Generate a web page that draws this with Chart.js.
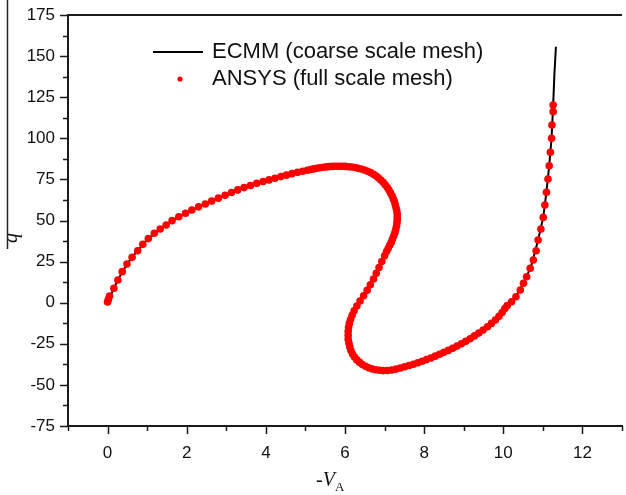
<!DOCTYPE html>
<html><head><meta charset="utf-8">
<script src="https://cdn.jsdelivr.net/npm/chart.js@4.4.1/dist/chart.umd.min.js"></script>
<style>html,body{margin:0;padding:0;background:#fff;overflow:hidden}</style>
</head><body>
<canvas id="c" width="626" height="495"></canvas>
<script>
// ---- data ----
const ecmmLabel = 'ECMM (coarse scale mesh)';
const ansysLabel = 'ANSYS (full scale mesh)';

const ecmmX = [0,0.1,0.25,0.5,0.75,1.0,1.3,1.6,2.0,2.4,2.8,3.2,3.6,4.0,4.5,5.0,5.4,5.8,6.2,6.5,6.8,7.05,7.2,7.3,7.32,7.28,7.2,7.09,6.93,6.72,6.47,6.27,6.14,6.08,6.09,6.15,6.30,6.52,6.78,7.0,7.3,7.7,8.2,8.7,9.2,9.6,9.9,10.1,10.3,10.5,10.7,10.88,11.01,11.09,11.16,11.22,11.26,11.29,11.33];
const ecmmY = [0,5.5,13.5,23.8,31.5,38.3,44.4,49.4,54.8,59.5,63.6,67.8,71.3,74.2,77.4,80.3,82.2,83.0,82.4,80.6,76.8,70.1,64.2,56.7,50.1,44.4,38.7,33.0,25.0,14.4,4.2,-3.4,-10.2,-17.4,-24.0,-29.1,-34.8,-38.7,-40.8,-41.3,-40.4,-37.6,-33.4,-27.9,-21.3,-14.6,-8.3,-1.8,3.2,11.3,21.9,38.1,51.9,67.2,83.3,100,120,138,155.7];

const ansysX = [0.00,0.02,0.05,0.16,0.26,0.37,0.49,0.62,0.76,0.89,1.03,1.18,1.33,1.48,1.63,1.80,1.97,2.13,2.30,2.47,2.63,2.80,
2.97,3.13,3.29,3.45,3.61,3.77,3.93,4.08,4.23,4.38,4.52,4.66,4.80,4.93,5.05,
5.13,5.21,5.29,5.37,5.45,5.53,5.61,5.69,5.77,5.85,5.93,6.01,6.09,6.17,6.25,6.33,6.41,6.49,
6.57,6.65,6.72,6.79,6.85,6.91,6.97,7.02,7.07,7.11,7.15,7.19,7.22,7.25,7.27,7.29,7.31,7.32,7.32,7.32,7.31,7.30,7.28,7.26,7.23,7.20,7.17,7.13,7.09,7.05,
7.00,6.93,6.86,6.79,6.72,6.64,6.56,6.47,6.38,6.30,6.23,6.18,
6.14,6.11,6.09,6.08,6.08,6.08,6.10,6.12,6.15,6.19,6.24,6.30,6.37,6.44,6.52,6.60,6.69,6.78,6.87,6.96,
7.07,7.18,7.29,7.40,7.51,7.62,7.73,7.84,7.95,8.06,8.17,8.28,8.39,8.50,8.61,8.72,8.83,8.94,9.05,9.16,9.27,9.38,9.49,9.60,9.70,9.80,9.89,9.97,10.04,10.10,10.21,
10.32,10.43,10.51,10.59,10.68,10.76,10.83,10.88,10.95,11.01,11.05,11.09,11.13,11.16,11.19,11.22,11.23,11.26,11.26];
const ansysY = [0.5,2.0,4.0,8.8,13.8,18.9,23.5,27.6,31.6,35.5,39.0,42.2,44.8,47.3,49.9,52.3,54.4,56.4,58.3,60.0,61.8,63.6,
65.3,67.0,68.6,70.0,71.3,72.6,73.7,74.7,75.7,76.7,77.6,78.5,79.3,80.0,80.6,
81.0,81.4,81.8,82.1,82.4,82.6,82.8,82.9,83.0,83.0,83.0,82.9,82.7,82.5,82.2,81.8,81.3,80.7,
80.0,79.1,78.1,77.0,75.8,74.5,73.1,71.6,70.1,68.5,66.8,65.1,63.3,61.5,59.6,57.7,55.8,53.9,52.0,50.1,48.2,46.3,44.4,42.5,40.6,38.7,36.8,34.9,33.0,31.1,
28.5,25.0,21.4,17.9,14.4,10.9,7.5,4.2,1.0,-2.0,-4.9,-7.7,
-10.2,-12.6,-15.0,-17.4,-19.8,-22.2,-24.6,-26.9,-29.1,-31.2,-33.1,-34.8,-36.3,-37.6,-38.7,-39.6,-40.3,-40.8,-41.1,-41.3,
-41.2,-40.9,-40.4,-39.7,-39.0,-38.2,-37.4,-36.5,-35.6,-34.6,-33.6,-32.5,-31.4,-30.2,-29.0,-27.7,-26.4,-25.0,-23.5,-21.9,-20.2,-18.5,-16.6,-14.6,-12.6,-10.5,-8.3,-6.0,-3.6,-1.8,0.6,
3.6,7.7,11.8,15.8,20.9,26.0,31.6,38.1,44.8,51.9,59.4,67.2,75.2,83.3,91.5,100.0,108.1,116.2,120.3];

const xMajorTicks = [0,2,4,6,8,10,12];
const xMinorTicks = [-1,1,3,5,7,9,11,13];
const yMajorTicks = [-75,-50,-25,0,25,50,75,100,125,150,175];
const yMinorTicks = [-62.5,-37.5,-12.5,12.5,37.5,62.5,87.5,112.5,137.5,162.5];
const xRange = [-1, 13];
const yRange = [-75, 175];

// ---- chart ----
const toPts = (xs, ys) => xs.map((x, i) => ({x: x, y: ys[i]}));
const AXIS = '#1a1a1a';
const SANS = '"Liberation Sans", Arial, sans-serif';
const SERIF = '"Liberation Serif", "Times New Roman", serif';

const decor = {
  id: 'decor',
  afterDraw(chart) {
    const ctx = chart.ctx, a = chart.chartArea;
    const xs = chart.scales.x, ys = chart.scales.y;
    ctx.save();
    ctx.strokeStyle = AXIS; ctx.fillStyle = AXIS;
    // top frame line
    ctx.lineWidth = 2;
    ctx.beginPath(); ctx.moveTo(a.left, a.top); ctx.lineTo(a.right, a.top); ctx.stroke();
    // tick marks
    ctx.lineWidth = 1.5;
    ctx.beginPath();
    xMajorTicks.forEach(v => { const p = Math.round(xs.getPixelForValue(v)) + 0.5; ctx.moveTo(p, a.bottom); ctx.lineTo(p, a.bottom + 8); });
    xMinorTicks.forEach(v => { const p = Math.round(xs.getPixelForValue(v)) + 0.5; ctx.moveTo(p, a.bottom); ctx.lineTo(p, a.bottom + 5); });
    yMajorTicks.forEach(v => { const p = Math.round(ys.getPixelForValue(v)) + 0.5; ctx.moveTo(a.left, p); ctx.lineTo(a.left - 8, p); });
    yMinorTicks.forEach(v => { const p = Math.round(ys.getPixelForValue(v)) + 0.5; ctx.moveTo(a.left, p); ctx.lineTo(a.left - 5, p); });
    ctx.stroke();
    // legend
    const lx = a.left + 85, ly1 = a.top + 37, ly2 = a.top + 64;
    ctx.strokeStyle = '#000'; ctx.lineWidth = 2;
    ctx.beginPath(); ctx.moveTo(lx, ly1); ctx.lineTo(lx + 50, ly1); ctx.stroke();
    ctx.fillStyle = '#ff0000';
    ctx.beginPath(); ctx.arc(lx + 27, ly2, 2.6, 0, Math.PI * 2); ctx.fill();
    ctx.fillStyle = '#111';
    ctx.font = '22px ' + SANS; ctx.textBaseline = 'middle'; ctx.textAlign = 'left';
    ctx.fillText(ecmmLabel, lx + 59, ly1);
    ctx.fillText(ansysLabel, lx + 59, ly2);
    // x title: -V_A
    ctx.textBaseline = 'alphabetic';
    let tx = 316; const tb = 486;
    ctx.font = '20px ' + SERIF; ctx.fillText('-', tx, tb); tx += ctx.measureText('-').width;
    ctx.font = 'italic 20px ' + SERIF; ctx.fillText('V', tx, tb); tx += ctx.measureText('V').width;
    ctx.font = '13px ' + SERIF; ctx.fillText('A', tx, tb + 5);
    // y title: q with overline, rotated
    ctx.save();
    ctx.translate(17, 238); ctx.rotate(-Math.PI / 2);
    ctx.font = 'italic 20px ' + SERIF; ctx.textAlign = 'center';
    ctx.fillText('q', 0, 0);
    ctx.restore();
    ctx.strokeStyle = '#222'; ctx.lineWidth = 1.5;
    ctx.beginPath(); ctx.moveTo(7.5, 0); ctx.lineTo(7.5, 249); ctx.stroke();
    ctx.restore();
  }
};

new Chart(document.getElementById('c'), {
  type: 'scatter',
  data: {
    datasets: [
      { label: ecmmLabel, data: toPts(ecmmX, ecmmY), showLine: true, borderColor: '#000', borderWidth: 2,
        pointRadius: 0, tension: 0, fill: false, order: 1 },
      { label: ansysLabel, data: toPts(ansysX, ansysY), showLine: false, pointRadius: 3.8,
        pointBackgroundColor: '#ff0000', pointBorderWidth: 0, pointBorderColor: '#ff0000', order: 0 }
    ]
  },
  options: {
    responsive: false, animation: false, devicePixelRatio: 1,
    layout: { padding: { left: 0, top: 15, right: 0, bottom: 0 } },
    plugins: { legend: { display: false }, tooltip: { enabled: false } },
    scales: {
      x: {
        type: 'linear', position: 'bottom', min: xRange[0], max: xRange[1],
        afterBuildTicks: s => { s.ticks = xMajorTicks.map(v => ({ value: v })); },
        ticks: { font: { family: SANS, size: 17 }, color: '#111', padding: 17, maxRotation: 0, autoSkip: false },
        grid: { display: false, drawTicks: false, tickLength: 0 },
        border: { display: true, color: AXIS, width: 2 },
        afterFit: s => { s.height = 69; s.paddingLeft = 0; s.paddingRight = 0; }
      },
      y: {
        type: 'linear', position: 'left', min: yRange[0], max: yRange[1],
        afterBuildTicks: s => { s.ticks = yMajorTicks.map(v => ({ value: v })); },
        ticks: { font: { family: SANS, size: 17 }, color: '#111', padding: 13, autoSkip: false },
        grid: { display: false, drawTicks: false, tickLength: 0 },
        border: { display: true, color: AXIS, width: 2 },
        afterFit: s => { s.width = 68; s.paddingTop = 0; s.paddingBottom = 0; }
      }
    }
  },
  plugins: [decor]
});
</script>
</body></html>
